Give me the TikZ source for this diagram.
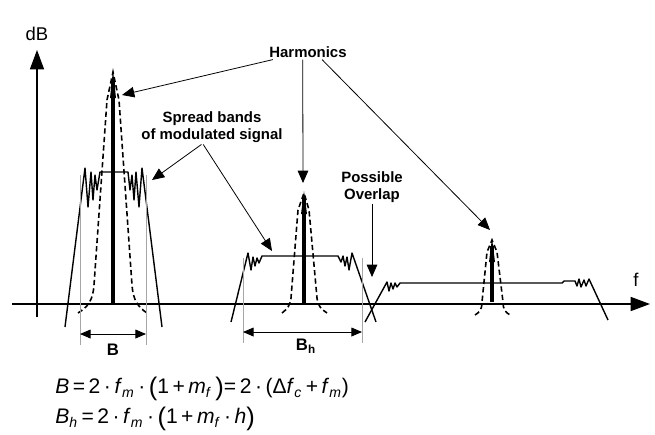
\documentclass[tikz,border=0pt]{standalone}
\usepackage{fontspec}
\setmainfont{Liberation Sans}
\usetikzlibrary{arrows.meta}
\newcommand{\vsub}[2]{\textit{#1}\textsubscript{\textit{#2}}}
\newcommand{\bpar}[1]{\raisebox{-0.15ex}{\fontsize{14.5}{14.5}\selectfont #1}}

\begin{document}
\begin{tikzpicture}[x=0.02cm, y=-0.02cm,
  axisline/.style={line width=0.7pt, -{Triangle[length=11pt,width=8pt]}},
  callout/.style={line width=0.45pt, -{Triangle[length=7pt,width=6pt]}},
  lbl/.style={font=\bfseries\fontsize{8.5}{9.5}\selectfont, align=center, inner sep=1pt},
  env/.style={line width=0.8pt, line join=round},
  harm/.style={line width=0.9pt, dash pattern=on 3pt off 1.8pt},
  carrier/.style={line width=1.8pt},
  ext/.style={gray!70, line width=0.4pt},
  dim/.style={line width=0.5pt, {Triangle[length=6pt,width=5pt]}-{Triangle[length=6pt,width=5pt]}}]

\useasboundingbox (0,0) rectangle (655,434);

% axes
\coordinate (yb) at (37,317);
\coordinate (yt) at (37,50);
\coordinate (xl) at (12,304);
\coordinate (xr) at (650,304);
\draw[axisline] (yb) -- (yt);
\draw[axisline] (xl) -- (xr);
\node[font=\fontsize{10.5}{12}\selectfont] (db) at (37,34) {dB};
\node[font=\fontsize{10.5}{12}\selectfont] (fq) at (636,280) {f};

% band 1
\draw[env] (65,327) -- (85,168) -- (88,207) -- (91,172) -- (93,200) -- (95,175) -- (97,190) -- (100,172)
  -- (128,172) -- (130,190) -- (132,175) -- (134,200) -- (136,172) -- (139,207) -- (142,168) -- (162,327);
\draw[harm] (78,313) .. controls (88,307) and (93,300) .. (94,285) -- (107,100) -- (113,72)
  -- (119,100) -- (132,285) .. controls (133,300) and (138,307) .. (147,313);
\draw[carrier] (113,304) -- (113,80);
\fill (110,98) -- (113,70) -- (116,98) -- cycle;

% band 2
\draw[env] (231,322) -- (248,253) -- (251,270) -- (253,257) -- (255,266) -- (257,258) -- (259,263) -- (262,256)
  -- (338,256) -- (341,262) -- (343,256) -- (345,266) -- (347,257) -- (349,270) -- (352,253) -- (376,322);
\draw[harm] (282,313) .. controls (287,309) and (290,306) .. (291,298) -- (298,210) -- (304,193)
  -- (309,210) -- (317,298) .. controls (318,306) and (321,309) .. (327,313);
\draw[carrier] (304,304) -- (304,198);
\fill (301,214) -- (304,191) -- (307,214) -- cycle;

% band 3
\draw[env] (365,322) -- (387,282) -- (389,291) -- (391,283) -- (393,289) -- (395,283) -- (397,287) -- (400,283)
  -- (562,283) -- (564,281) -- (575,281) -- (577,286) -- (579,279) -- (581,287) -- (584,280) -- (586,286)
  -- (589,279) -- (608,320);
\draw[harm] (475,315) .. controls (480,312) and (482,309) .. (482,302) -- (487,252) -- (492,240)
  -- (497,252) -- (503,302) .. controls (503,309) and (505,312) .. (510,315);
\draw[carrier] (492,302) -- (492,246);
\fill (489,262) -- (492,238) -- (495,262) -- cycle;

% bandwidths
\draw[ext] (80,175) -- (80,345);
\draw[ext] (146,175) -- (146,345);
\coordinate (b1l) at (80,334);
\coordinate (b1r) at (146,334);
\draw[dim] (b1l) -- (b1r);
\node[lbl, font=\bfseries\fontsize{9.5}{11}\selectfont] (bw1) at (113,350) {B};
\draw[ext] (243,258) -- (243,343);
\draw[ext] (362,258) -- (362,343);
\coordinate (b2l) at (243,332);
\coordinate (b2r) at (362,332);
\draw[dim] (b2l) -- (b2r);
\node[lbl, font=\bfseries\fontsize{9.5}{11}\selectfont] (bw2) at (306,346) {B\textsubscript{h}};

% callouts
\node[lbl] (harmo) at (308,52) {Harmonics};
\coordinate (pk1) at (122,95);
\coordinate (pk2) at (303,183);
\coordinate (pk3) at (490,230);
\draw[callout] ([xshift=-20pt]harmo.south) -- (pk1);
\draw[callout] ([xshift=-3pt]harmo.south) -- (pk2);
\draw[callout] ([xshift=8pt]harmo.south) -- (pk3);

\node[lbl] (spread) at (212,127) {Spread bands\\of modulated signal};
\coordinate (sb1) at (152,180);
\coordinate (sb2) at (272,251);
\draw[callout] ([xshift=-6pt]spread.south) -- (sb1);
\draw[callout] ([xshift=-5pt]spread.south) -- (sb2);

\node[lbl] (overlap) at (372,187) {Possible\\Overlap};
\coordinate (ov) at (372,277);
\draw[callout] (overlap.south) -- (ov);

% formulas
\node[anchor=west, inner sep=0pt, font=\fontsize{12}{14}\selectfont] (eq1) at (55,389)
  {\textit{B}\,=\,2\,·\,\vsub{f}{m}\,·\,\bpar{(}1\,+\,\vsub{m}{f}\,\bpar{)}=\,2\,·\,(Δ\vsub{f}{c}\,+\,\vsub{f}{m})};
\node[anchor=west, inner sep=0pt, font=\fontsize{12}{14}\selectfont] (eq2) at (55,419)
  {\vsub{B}{h}\,=\,2\,·\,\vsub{f}{m}\,·\,\bpar{(}1\,+\,\vsub{m}{f}\,·\,\textit{h}\bpar{)}};
\end{tikzpicture}
\end{document}
